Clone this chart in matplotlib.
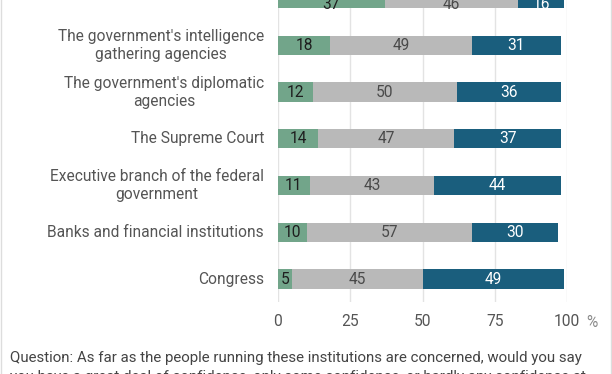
"""
Confidence in institutions: stacked horizontal bars (great deal / only some / hardly any).
"""

import matplotlib.pyplot as plt
from matplotlib.lines import Line2D

plt.rcParams['font.family'] = ['Roboto', 'DejaVu Sans']

institutions = [
    'Military',
    "The government's intelligence\ngathering agencies",
    "The government's diplomatic\nagencies",
    'The Supreme Court',
    'Executive branch of the federal\ngovernment',
    'Banks and financial institutions',
    'Congress',
]
great_deal = [37, 18, 12, 14, 11, 10, 5]
only_some = [46, 49, 50, 47, 43, 57, 45]
hardly_any = [16, 31, 36, 37, 44, 30, 49]
x_ticks = [0, 25, 50, 75, 100]

caption = ('Question: As far as the people running these institutions are concerned, would you say\n'
           'you have a great deal of confidence, only some confidence, or hardly any confidence at')

colors = ['#72a58a', '#b9b9b9', '#1a5e7d']
text_colors = ['#1e1e1e', '#4a4a4a', '#ffffff']
fs = 11.2

W, H = 612, 374
fig = plt.figure(figsize=(W / 100, H / 100), dpi=100)
ax = fig.add_axes([278 / W, 1 - 302 / H, (567 - 278) / W, 302 / H])

ypos = list(range(len(institutions)))
left = [0] * len(institutions)
for vals, col, tcol in zip([great_deal, only_some, hardly_any], colors, text_colors):
    bars = ax.barh(ypos, vals, left=left, height=0.41, color=col, zorder=3)
    ax.bar_label(bars, labels=[str(v) for v in vals], label_type='center',
                 color=tcol, fontsize=fs)
    left = [a + b for a, b in zip(left, vals)]

ax.set_xlim(0, 100)
ax.set_ylim(6.49, 0.032)
ax.set_xticks(x_ticks)
ax.set_xticklabels([str(t) for t in x_ticks])
ax.set_yticks([])
ax.tick_params(axis='x', length=0, pad=9, labelsize=fs, labelcolor='#555555')
ax.grid(axis='x', color='#e3e3e3', linewidth=1, zorder=0)
for s in ax.spines.values():
    s.set_visible(False)

# percent sign after the last tick label
ax.annotate('%', xy=(100, 0), xycoords=('data', 'axes fraction'), xytext=(18, -15),
            textcoords='offset points', ha='center', va='center', fontsize=fs, color='#888888')

# row labels, right aligned, lines centered
for y, name in zip(ypos, institutions):
    ax.annotate(name, xy=(0, y), xycoords='data', xytext=(-10, 0), textcoords='offset points',
                ha='right', va='center', multialignment='center', fontsize=fs,
                color='#555555', linespacing=1.25)

fig.text(10 / W, 1 - 351 / H, caption, ha='left', va='top', fontsize=10.8,
         color='#444444', linespacing=1.45)

# light frame at the sides
for x in (0.5 / W, 610.5 / W):
    fig.add_artist(Line2D([x, x], [0, 1], color='#dddddd', linewidth=1))

fig.savefig('out.png', dpi=100)
